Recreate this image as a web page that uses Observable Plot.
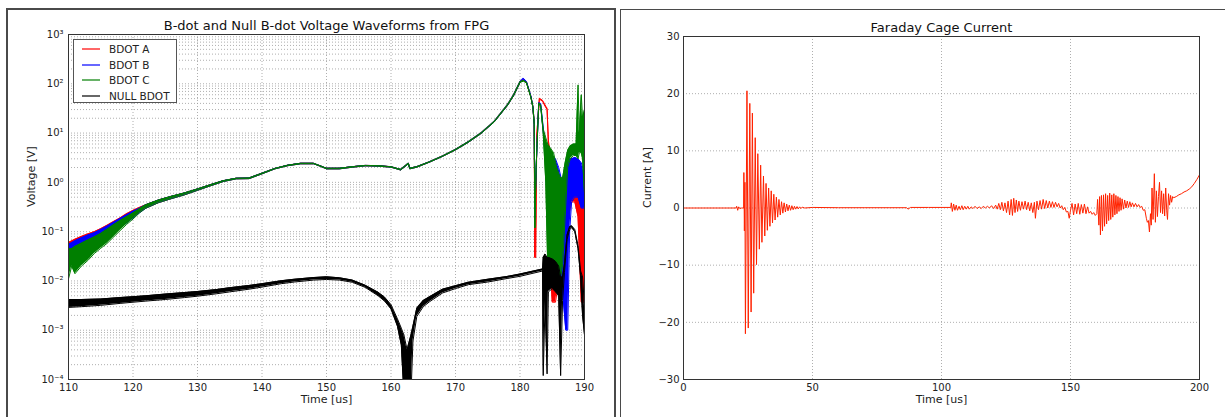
<!DOCTYPE html>
<html>
<head>
<meta charset="utf-8">
<script src="https://cdn.jsdelivr.net/npm/d3@7"></script>
<script src="https://cdn.jsdelivr.net/npm/@observablehq/plot@0.6"></script>
<style>
  html, body { margin: 0; padding: 0; background: #fff; }
  #wrap { position: relative; width: 1225px; height: 417px; overflow: hidden; background: #fff; font-family: "DejaVu Sans", sans-serif; }
  .panel { position: absolute; border: 2px solid #4a4a4a; box-sizing: border-box; }
  #leftPanel { left: 6px; top: 8px; width: 610px; height: 430px; }
  #rightPanel { left: 620px; top: 9px; width: 640px; height: 430px; border-width: 1.5px; }
  .chart { position: absolute; top: 0; }
  #leftChart { left: 0; }
  #rightChart { left: 615px; }
  #legend { position: absolute; left: 73px; top: 39px; width: 104px; height: 64px; box-sizing: border-box;
            border: 1px solid #555; background: #fff; font-size: 10.5px; color: #222; }
  #legend .row { position: absolute; left: 0; height: 14px; line-height: 14px; white-space: nowrap; }
  #legend svg { position: absolute; left: 8px; top: 5px; }
  #legend .lab { position: absolute; left: 35px; top: 0; }
</style>
</head>
<body>
<div id="wrap">
  <div class="panel" id="leftPanel"></div>
  <div class="panel" id="rightPanel"></div>
  <div class="chart" id="leftChart"></div>
  <div class="chart" id="rightChart"></div>
  <div id="legend"></div>
</div>
<script>
// ---------------- Left chart data: [time us, low, high] voltage envelopes ----------------
const leftTitle = "B-dot and Null B-dot Voltage Waveforms from FPG";
const leftXLabel = "Time [us]";
const leftYLabel = "Voltage [V]";
const leftXTicks = [110, 120, 130, 140, 150, 160, 170, 180, 190];
const leftYTicks = [1e-4, 1e-3, 1e-2, 1e-1, 1e0, 1e1, 1e2, 1e3];
const leftYTickLabels = ["10\u207B\u2074", "10\u207B\u00B3", "10\u207B\u00B2", "10\u207B\u00B9", "10\u2070", "10\u00B9", "10\u00B2", "10\u00B3"];

const seriesNames = ["BDOT A", "BDOT B", "BDOT C", "NULL BDOT"];
const seriesColors = ["#ff0000", "#0000ff", "#007f00", "#000000"];

const bdotAStart = [
  [110, 0.025, 0.06], [111, 0.03, 0.07], [112, 0.035, 0.08], [113, 0.045, 0.09], [114, 0.055, 0.1],
  [115, 0.065, 0.115], [116, 0.08, 0.135], [117, 0.1, 0.16], [118, 0.13, 0.19], [119, 0.16, 0.23],
  [120, 0.2, 0.27], [121, 0.25, 0.31]
];
const bdotBStart = [
  [110, 0.02, 0.055], [111, 0.025, 0.065], [112, 0.03, 0.075], [113, 0.04, 0.085], [114, 0.05, 0.095],
  [115, 0.06, 0.11], [116, 0.075, 0.13], [117, 0.095, 0.155], [118, 0.12, 0.185], [119, 0.15, 0.22],
  [120, 0.19, 0.26], [121, 0.24, 0.3]
];
const bdotCStart = [
  [110, 0.011, 0.045], [110.5, 0.02, 0.045], [111, 0.014, 0.05], [112, 0.02, 0.058], [113, 0.026, 0.068],
  [114, 0.036, 0.078], [115, 0.046, 0.092], [116, 0.058, 0.112], [117, 0.078, 0.138], [118, 0.105, 0.168],
  [119, 0.14, 0.2], [120, 0.18, 0.24], [121, 0.24, 0.29]
];
const bdotCommon = [
  [122, 0.3, 0.35], [124, 0.39, 0.44], [126, 0.47, 0.52], [128, 0.56, 0.61], [130, 0.69, 0.73],
  [132, 0.85, 0.89], [134, 1.04, 1.08], [136, 1.18, 1.21], [138, 1.19, 1.22], [140, 1.49, 1.53],
  [142, 1.88, 1.92], [144, 2.18, 2.23], [146, 2.38, 2.43], [148, 2.38, 2.43], [149, 2.13, 2.18],
  [150, 1.88, 1.93], [152, 1.88, 1.93], [154, 2.03, 2.08], [156, 2.16, 2.21], [158, 2.13, 2.18],
  [160, 2.03, 2.08], [161.5, 1.78, 1.83], [162.7, 2.38, 2.45], [162.9, 1.88, 1.93], [164, 2.03, 2.08],
  [166, 2.58, 2.63], [168, 3.37, 3.43], [170, 4.55, 4.65], [172, 6.5, 6.7], [174, 9.9, 10.1],
  [176, 16.8, 17.2], [178, 35.5, 36.5], [179, 57, 59], [180, 106, 110]
];
const bdotAEnd = [
  [180.5, 118, 121], [181, 106, 110], [181.7, 53, 55], [182, 33, 35], [182.2, 15, 17],
  [182.3, 0.03, 0.03], [182.45, 0.03, 0.17], [182.6, 8, 9], [183, 49, 51], [183.5, 44, 46],
  [184, 33, 35], [184.2, 30, 32], [184.4, 6, 7], [184.7, 0.02, 4], [185, 0.0037, 2.5],
  [185.5, 0.0037, 1.5], [186, 0.01, 1.2], [186.5, 0.01, 1.0], [187, 0.03, 1.8], [187.5, 0.2, 2.8],
  [188, 0.4, 3], [188.5, 0.4, 3], [189, 0.2, 3], [189.5, 0.0037, 2], [190, 0.0037, 0.5]
];
const bdotBEnd = [
  [180.5, 125, 130], [181, 108, 112], [181.7, 54, 56], [182, 33, 35], [182.2, 15, 17],
  [182.3, 0.2, 0.2], [182.5, 2, 2], [182.9, 40, 41], [183.2, 38, 40], [183.7, 8, 10],
  [184, 2, 5], [184.5, 0.03, 4], [185, 0.02, 3.5], [185.5, 0.015, 3], [186, 0.02, 2],
  [186.4, 0.01, 1.2], [186.8, 0.003, 1.0], [187.1, 0.001, 1.6], [187.4, 0.001, 2.5], [187.7, 0.1, 3],
  [188, 0.4, 3], [188.5, 0.5, 3.2], [189, 0.5, 3], [189.5, 0.3, 2.5], [190, 0.3, 1.5]
];
const bdotCEnd = [
  [180.5, 113, 117], [181, 104, 108], [181.7, 52, 54], [182, 33, 35], [182.2, 15, 17],
  [182.3, 0.12, 0.12], [182.5, 2, 2], [182.9, 38, 40], [183.2, 36, 38], [183.6, 10, 12],
  [184, 1, 8], [184.3, 0.02, 6], [184.7, 0.008, 5], [185.2, 0.008, 4], [185.7, 0.01, 2],
  [186.2, 0.01, 1.3], [186.6, 0.02, 1.2], [187, 0.2, 2.5], [187.4, 2, 4.5], [187.8, 3, 5.5],
  [188.3, 3.5, 6], [188.7, 3.5, 6], [189, 3, 95], [189.2, 4, 10], [189.5, 4, 60],
  [189.7, 3, 20], [190, 0.6, 30]
];
const nullBdot = [
  [110, 0.0029, 0.0042], [112, 0.003, 0.0042], [115, 0.0032, 0.0043], [118, 0.0035, 0.0046],
  [120, 0.0037, 0.0048], [122, 0.0039, 0.005], [125, 0.0042, 0.0054], [128, 0.0046, 0.0058],
  [130, 0.0049, 0.0061], [133, 0.0055, 0.0067], [135, 0.006, 0.0073], [138, 0.0068, 0.0081],
  [140, 0.0075, 0.0088], [143, 0.0088, 0.0101], [145, 0.0095, 0.0108], [148, 0.0104, 0.0117],
  [150, 0.0107, 0.0121], [152, 0.0104, 0.0116], [154, 0.0094, 0.0104], [156, 0.0074, 0.0082],
  [158, 0.005, 0.0059], [159, 0.0039, 0.0047], [160, 0.0027, 0.0033], [161, 0.0012, 0.0017],
  [161.6, 0.0005, 0.0011], [162, 0.00005, 0.0008], [162.5, 0.00005, 0.0004], [163.1, 0.00005, 0.0008],
  [163.4, 0.0006, 0.0012], [164, 0.0019, 0.0028], [165, 0.003, 0.004], [166, 0.0038, 0.0048],
  [168, 0.0057, 0.0068], [170, 0.007, 0.008], [172, 0.0084, 0.0094], [175, 0.0095, 0.0108],
  [178, 0.0112, 0.0123], [180, 0.0124, 0.0138], [183.5, 0.0159, 0.0175], [183.6, 0.00012, 0.03],
  [183.9, 0.004, 0.035], [184.2, 0.00013, 0.03], [184.4, 0.006, 0.03], [185, 0.007, 0.028],
  [185.5, 0.006, 0.025], [186, 0.005, 0.02], [186.3, 0.00012, 0.012], [186.6, 0.004, 0.012],
  [186.9, 0.015, 0.022], [187.3, 0.07, 0.085], [187.7, 0.11, 0.125], [188, 0.12, 0.132],
  [188.5, 0.1, 0.11], [189, 0.045, 0.052], [189.4, 0.012, 0.016], [189.7, 0.002, 0.012],
  [190, 0.0008, 0.003]
];

// ---------------- Right chart data: [time us, current A] ----------------
const rightTitle = "Faraday Cage Current";
const rightXLabel = "Time [us]";
const rightYLabel = "Current [A]";
const rightXTicks = [0, 50, 100, 150, 200];
const rightYTicks = [-30, -20, -10, 0, 10, 20, 30];
const rightYTickLabels = ["\u221230", "\u221220", "\u221210", "0", "10", "20", "30"];
const faradayColor = "#ff2200";
const faraday = [
  [0, 0], [20.4, 0], [20.6, 0.3], [21.0, -0.4], [21.4, 0.2], [21.8, -0.1], [22.5, 0], [23.3, 0],
  [23.4, 6.2], [23.6, -4.0], [23.8, 4.5], [24.0, -22.0], [24.6, 20.5], [25.1, -21.0], [25.7, 18.3],
  [26.2, -18.2], [26.7, 16.6], [27.2, -14.9], [27.8, 12.3], [28.3, -9.9], [28.8, 9.5], [29.4, -7.2],
  [29.9, 7.5], [30.4, -6.0], [31.0, 5.6], [31.5, -4.9], [32.0, 4.3], [32.5, -3.9], [33.0, 3.5],
  [33.5, -3.2], [34.0, 3.0], [34.5, -2.6], [35.0, 2.4], [35.5, -2.1], [36.0, 1.9], [36.5, -1.6],
  [37.0, 1.5], [37.5, -1.2], [38.0, 1.1], [38.5, -0.9], [39.0, 0.9], [39.5, -0.7], [40.0, 0.7],
  [40.5, -0.5], [41.0, 0.5], [41.5, -0.4], [42.0, 0.4], [42.5, -0.3], [43.0, 0.3], [43.5, -0.2],
  [44.0, 0.25], [44.5, -0.15], [45.0, 0.2], [45.5, -0.1], [46.0, 0.15], [47.0, 0.0], [50, 0.1],
  [60, 0.05], [70, 0.05], [80, 0.05], [86.5, 0.05], [87, -0.2], [88, 0.1], [95, 0.1], [103.6, 0.1],
  [103.8, 0.9], [104.2, -0.6], [104.7, 0.7], [105.2, -0.4], [105.7, 0.5], [106.2, -0.4], [106.8, 0.3],
  [107.3, -0.3], [107.9, 0.4], [108.4, -0.3], [109, 0.3], [109.6, -0.2], [110.2, 0.3], [110.8, -0.2],
  [111.5, 0.2], [112.2, -0.1], [113, 0.3], [113.8, -0.1], [114.6, 0.2], [115.4, -0.1], [116.2, 0.3],
  [117, 0], [117.8, 0.3], [118.6, 0], [119.4, 0.4], [120.2, -0.1], [121, 0.5], [121.6, -0.2],
  [122.2, 0.8], [122.8, -0.3], [123.4, 1.0], [124, -0.5], [124.6, 0.9], [125.2, -0.8], [125.8, 1.2],
  [126.4, -1.2], [127, 1.5], [127.5, -1.3], [128, 1.7], [128.5, -0.8], [129, 1.4], [129.5, -0.6],
  [130, 1.2], [130.6, -0.4], [131.2, 1.1], [131.8, -0.2], [132.4, 1.2], [133, -0.3], [133.6, 1.0],
  [134.2, -0.5], [134.8, 0.9], [135.4, -0.8], [136, 1.0], [136.4, -1.8], [137, 1.2], [137.6, -0.3],
  [138.2, 1.3], [138.8, -0.2], [139.4, 1.5], [140, -0.1], [140.6, 1.3], [141.2, 0], [141.8, 1.2],
  [142.4, 0.1], [143, 1.1], [143.6, 0.1], [144.2, 1.0], [144.8, 0.2], [145.4, 0.8], [146, 0],
  [146.6, 0.4], [147.2, -0.3], [147.8, 0.1], [148.4, -0.7], [149, -0.6], [149.5, -1.8], [150, -0.4],
  [150.6, 0.8], [151.2, -1.2], [151.8, 0.7], [152.4, -1.0], [153, 0.8], [153.6, -1.1], [154.2, 0.6],
  [154.8, -0.9], [155.4, 0.7], [156, -1.0], [156.6, 0.2], [157.2, -0.9], [157.8, -0.6], [158.4, -1.1],
  [159, -0.8], [159.6, -1.3], [160.2, -1.0], [160.5, 1.5], [161.0, -3.0], [161.3, 2.0], [161.6, -4.7],
  [162.0, 2.2], [162.4, -4.0], [162.8, 2.3], [163.2, -3.2], [163.6, 2.5], [164.0, -2.8], [164.4, 2.2],
  [164.8, -2.2], [165.2, 2.6], [165.6, -2.0], [166.0, 2.3], [166.4, -1.6], [166.8, 2.5], [167.2, -1.2],
  [167.6, 2.2], [168.0, -1.0], [168.4, 2.0], [168.8, -0.6], [169.2, 1.8], [169.6, -0.4], [170.0, 1.6],
  [170.5, -0.2], [171, 1.4], [171.5, 0], [172, 1.2], [172.5, 0.1], [173, 1.1], [173.5, 0.2], [174, 0.9],
  [174.6, 0.2], [175.2, 0.8], [175.8, 0.2], [176.4, 0.6], [177, 0.1], [177.6, 0.3], [178.2, -0.4],
  [178.8, -0.3], [179.4, -1.8], [179.8, -2.5], [180.2, -2.2], [180.6, -4.2], [181.0, -1.0], [181.3, -3.0],
  [181.6, 3.5], [182.0, -2.0], [182.5, 6.0], [182.9, -2.5], [183.3, 3.0], [183.7, -1.5], [184.1, 2.0],
  [184.5, 4.5], [184.9, -0.8], [185.3, 3.0], [185.7, -1.0], [186.1, 2.5], [186.5, -1.4], [186.9, 3.5],
  [187.3, -0.5], [187.6, -2.0], [188.0, 2.5], [188.4, 0.5], [188.8, 2.2], [189.2, 1.0], [189.6, 2.0],
  [190, 1.8], [191, 2.0], [192, 2.3], [193, 2.5], [194, 2.8], [195, 3.0], [196, 3.3], [197, 3.7],
  [198, 4.3], [199, 5.0], [200, 5.8]
];

// ---------------- Build ----------------
const bdotA = [...bdotAStart, ...bdotCommon, ...bdotAEnd];
const bdotB = [...bdotBStart, ...bdotCommon, ...bdotBEnd];
const bdotC = [...bdotCStart, ...bdotCommon, ...bdotCEnd];
const leftSeries = [bdotA, bdotB, bdotC, nullBdot];

// log minor gridline positions (scale ticks 1..9 per decade)
const minorY = [];
for (let e = -4; e < 3; e++) for (let m = 2; m <= 9; m++) minorY.push(m * Math.pow(10, e));

const gridStyle = { stroke: "#9a9a9a", strokeDasharray: "1,2", strokeWidth: 0.8, strokeOpacity: 1 };
const font = "DejaVu Sans, sans-serif";

function bandMarks(data, color) {
  const X = d => d[0];
  return [
    Plot.areaY(data, { x: X, y1: d => d[1], y2: d => d[2], fill: color, clip: true }),
    Plot.line(data, { x: X, y: d => d[1], stroke: color, strokeWidth: 1, clip: true }),
    Plot.line(data, { x: X, y: d => d[2], stroke: color, strokeWidth: 1, clip: true })
  ];
}

const leftPlot = Plot.plot({
  width: 615, height: 417,
  marginLeft: 68, marginRight: 31, marginTop: 34, marginBottom: 38,
  style: { background: "transparent", fontFamily: font, fontSize: "10px", color: "#222", overflow: "visible" },
  x: { domain: [110, 190], ticks: leftXTicks, tickSize: 0, tickPadding: 4, label: null },
  y: { type: "log", domain: [1e-4, 1e3], ticks: leftYTicks,
       tickFormat: d => leftYTickLabels[leftYTicks.indexOf(d)], tickSize: 0, tickPadding: 5, label: null },
  marks: [
    Plot.ruleY(minorY, { y: d => d, ...gridStyle }),
    Plot.ruleY(leftYTicks.slice(1, -1), { y: d => d, ...gridStyle }),
    Plot.ruleX(leftXTicks.slice(1, -1), { x: d => d, ...gridStyle }),
    ...leftSeries.flatMap((s, i) => bandMarks(s, seriesColors[i])),
    Plot.frame({ stroke: "#333", strokeWidth: 1 }),
    Plot.text([leftTitle], { frameAnchor: "top", dy: -5, lineAnchor: "bottom", fontSize: 13, fill: "#111" }),
    Plot.text([leftXLabel], { frameAnchor: "bottom", dy: 16, lineAnchor: "top", fontSize: 11, fill: "#222" }),
    Plot.text([leftYLabel], { frameAnchor: "left", dx: -37, rotate: -90, fontSize: 11, fill: "#222" })
  ]
});
document.getElementById("leftChart").appendChild(leftPlot);

const rightPlot = Plot.plot({
  width: 610, height: 417,
  marginLeft: 68, marginRight: 26, marginTop: 36, marginBottom: 38,
  style: { background: "transparent", fontFamily: font, fontSize: "10px", color: "#222", overflow: "visible" },
  x: { domain: [0, 200], ticks: rightXTicks, tickSize: 0, tickPadding: 4, label: null },
  y: { domain: [-30, 30], ticks: rightYTicks,
       tickFormat: d => rightYTickLabels[rightYTicks.indexOf(d)], tickSize: 0, tickPadding: 4, label: null },
  marks: [
    Plot.ruleY(rightYTicks.slice(1, -1), { y: d => d, ...gridStyle }),
    Plot.ruleX(rightXTicks.slice(1, -1), { x: d => d, ...gridStyle }),
    Plot.line(faraday, { x: d => d[0], y: d => d[1], stroke: faradayColor, strokeWidth: 1, clip: true }),
    Plot.frame({ stroke: "#333", strokeWidth: 1 }),
    Plot.text([rightTitle], { frameAnchor: "top", dy: -5, lineAnchor: "bottom", fontSize: 13, fill: "#111" }),
    Plot.text([rightXLabel], { frameAnchor: "bottom", dy: 16, lineAnchor: "top", fontSize: 11, fill: "#222" }),
    Plot.text([rightYLabel], { frameAnchor: "left", dx: -36, rotate: -90, fontSize: 11, fill: "#222" })
  ]
});
document.getElementById("rightChart").appendChild(rightPlot);

// legend
const legend = document.getElementById("legend");
seriesNames.forEach((name, i) => {
  const row = document.createElement("div");
  row.className = "row";
  row.style.top = (2 + i * 15.5) + "px";
  row.style.width = "100%";
  row.innerHTML = '<svg width="18" height="4"><line x1="0" y1="2" x2="18" y2="2" stroke="' +
    seriesColors[i] + '" stroke-width="1.2"/></svg>';
  const lab = document.createElement("span");
  lab.className = "lab";
  lab.textContent = name;
  row.appendChild(lab);
  legend.appendChild(row);
});
</script>
</body>
</html>
